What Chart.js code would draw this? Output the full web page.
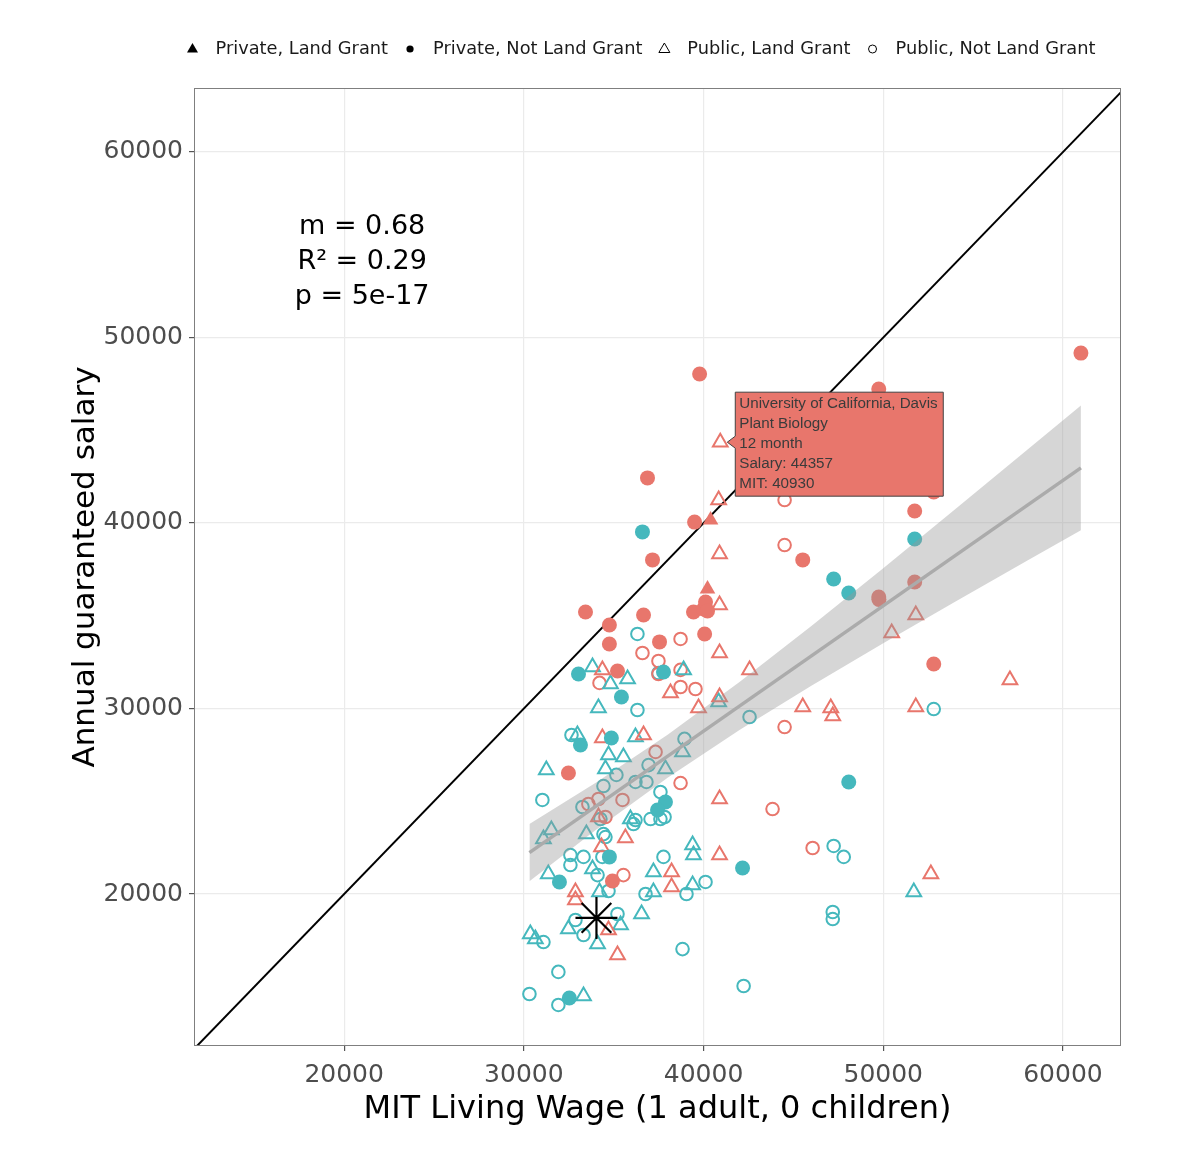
<!DOCTYPE html>
<html>
<head>
<meta charset="utf-8">
<script src="https://cdn.jsdelivr.net/npm/chart.js@4.4.0/dist/chart.umd.min.js"></script>
<style>
  html, body { margin: 0; padding: 0; background: #fff; }
</style>
</head>
<body>
<canvas id="chart" width="1200" height="1166"></canvas>
<script>
// axis ticks
const xTicks = [20000, 30000, 40000, 50000, 60000];
const yTicks = [20000, 30000, 40000, 50000, 60000];

const legendLabels = ['Private, Land Grant', 'Private, Not Land Grant', 'Public, Land Grant', 'Public, Not Land Grant'];

// [MIT living wage, salary]
const privLGRed = [[40220, 36440], [40390, 40160]];

const privNotLGRed = [
  [39780, 48030], [49750, 47220], [61000, 49160], [36880, 42430], [37160, 38010], [39500, 40050],
  [33430, 35200], [34760, 34500], [34760, 33480], [36660, 35040], [37550, 33590], [35210, 32020],
  [39440, 35200], [40000, 35360], [40110, 35740], [40220, 35260], [40060, 34020], [45520, 38010],
  [51750, 40650], [52810, 41670], [51750, 36820], [49750, 36010], [49760, 35880], [52810, 32400],
  [32480, 26520], [34930, 20700]
];

const privNotLGTeal = [
  [36600, 39520], [33040, 31860], [35430, 30620], [37770, 31970], [33150, 28030], [34870, 28410],
  [34760, 22000], [31980, 20650], [32530, 14390], [37880, 24960], [37440, 24530], [42170, 21400],
  [48080, 26040], [51750, 39140], [47240, 36980], [48080, 36230]
];

const pubLGRed = [
  [40930, 44357], [40840, 41240], [40890, 38330], [40890, 35580], [40890, 32990], [42560, 32080],
  [40890, 30620], [39720, 30030], [45520, 30080], [47080, 30030], [47190, 29600], [40890, 25120],
  [40890, 22100], [52650, 21080], [51810, 35040], [50470, 34070], [57050, 31540], [51810, 30080],
  [34370, 32080], [38160, 30840], [34370, 28410], [36660, 28570], [35650, 23020], [32870, 20110],
  [32870, 19680], [38220, 21190], [38220, 20380], [34710, 18060], [35210, 16710], [34320, 22530],
  [34150, 24150]
];

const pubLGTeal = [
  [33820, 32240], [34820, 31320], [35770, 31590], [34150, 30030], [38890, 32080], [32980, 28570],
  [36210, 28460], [34710, 27490], [35540, 27390], [31250, 26680], [34540, 26740], [38830, 27660],
  [31090, 22970], [31530, 23450], [33480, 23230], [35930, 24040], [31360, 21080], [33820, 21350],
  [34210, 20110], [37210, 21190], [37210, 20110], [39390, 22640], [39440, 22100], [39390, 20490],
  [36550, 18920], [35380, 18330], [32480, 18110], [30360, 17840], [30640, 17570], [34100, 17300],
  [33320, 14500], [40840, 30350], [51700, 20110], [37880, 26740]
];

const pubNotLGRed = [
  [44510, 41240], [44510, 38810], [38720, 33750], [36600, 32990], [37490, 32560], [37490, 31860],
  [38720, 32080], [38720, 31160], [39550, 31050], [34210, 31380], [37330, 27660], [38720, 25980],
  [44510, 29000], [43840, 24580], [46070, 22480], [33590, 24850], [34150, 25120], [35490, 25070],
  [34540, 24150], [35540, 21020]
];

const pubNotLGTeal = [
  [36320, 34020], [37490, 31910], [36320, 29920], [32650, 28570], [42560, 29540], [40110, 20650],
  [42230, 15040], [47240, 22590], [47800, 22000], [47190, 19030], [47190, 18650], [52810, 29970],
  [31030, 25070], [34540, 23070], [32590, 22100], [33320, 22000], [32590, 21560], [34100, 21020],
  [34710, 20160], [37770, 22000], [36770, 20000], [39050, 20000], [35210, 18920], [32870, 18600],
  [33320, 17790], [31090, 17410], [38830, 17030], [31920, 15800], [30310, 14610], [31920, 14020],
  [38940, 28360], [36940, 26950], [35150, 26420], [36210, 26040], [36820, 26040], [34430, 25820],
  [37600, 25500], [37600, 24040], [37050, 24040], [36210, 23990], [33260, 24690], [34430, 23230],
  [37830, 24150], [36100, 23770], [34260, 24040], [34370, 22000]
];

// highlighted program (asterisk)
const starPoint = [[34040, 18710]];

// linear fit and its confidence band
const fitX = [30310, 61000];
const fitY = [22230, 42970];
const bandX = [30310, 34000, 38000, 42000, 46000, 50000, 54000, 58000, 61000];
const bandHigh = [23770, 25995, 28590, 31425, 34445, 37565, 40735, 43930, 46340];
const bandLow = [20690, 23450, 26265, 28835, 31225, 33515, 35750, 37960, 39610];

// y = x reference
const diagX = [10000, 65000];

const statLines = ['m = 0.68', 'R\u00B2 = 0.29', 'p = 5e-17'];
const statPos = [21000, 55950];

const tipPoint = [40930, 44357];
const tipLines = ['University of California, Davis', 'Plant Biology', '12 month', 'Salary: 44357', 'MIT: 40930'];

const RED = '#E8766C';
const TEAL = '#45B8BD';
const FONT = '"DejaVu Sans", Verdana, sans-serif';

const pts = arr => arr.map(p => ({x: p[0], y: p[1]}));
const zip = (xs, ys) => xs.map((v, i) => ({x: v, y: ys[i]}));

function scatter(data, color, shape, filled, order) {
  return {
    type: 'scatter',
    data: pts(data),
    pointStyle: shape,
    pointRadius: filled ? (shape === 'triangle' ? 9 : 7.5) : (shape === 'triangle' ? 8.5 : 6.3),
    pointBackgroundColor: filled ? color : 'rgba(0,0,0,0)',
    pointBorderColor: color,
    pointBorderWidth: filled ? 0 : 2,
    order: order
  };
}

const overlay = {
  id: 'overlay',
  afterDatasetsDraw(chart) {
    const {ctx, chartArea: a, scales: {x, y}} = chart;
    ctx.save();
    ctx.strokeStyle = '#7f7f7f';
    ctx.lineWidth = 1;
    ctx.strokeRect(a.left + 0.5, a.top + 0.5, a.width - 1, a.height - 1);

    // stats text
    ctx.fillStyle = '#000';
    ctx.font = '27px ' + FONT;
    ctx.textAlign = 'center';
    ctx.textBaseline = 'middle';
    const sx = x.getPixelForValue(statPos[0]), sy = y.getPixelForValue(statPos[1]);
    statLines.forEach((t, i) => ctx.fillText(t, sx, sy + i * 35));

    // hover label
    const px = x.getPixelForValue(tipPoint[0]), py = y.getPixelForValue(tipPoint[1]);
    const bx = px + 15, by = py - 50, bw = 208, bh = 104;
    ctx.beginPath();
    ctx.moveTo(bx, by);
    ctx.lineTo(bx + bw, by);
    ctx.lineTo(bx + bw, by + bh);
    ctx.lineTo(bx, by + bh);
    ctx.lineTo(bx, py + 6);
    ctx.lineTo(px + 7, py);
    ctx.lineTo(bx, py - 6);
    ctx.closePath();
    ctx.fillStyle = RED;
    ctx.fill();
    ctx.strokeStyle = '#444';
    ctx.stroke();
    ctx.fillStyle = '#3b3b3b';
    ctx.font = '15.2px "Liberation Sans", Arial, sans-serif';
    ctx.textAlign = 'left';
    tipLines.forEach((t, i) => ctx.fillText(t, bx + 4, by + 12 + i * 20));
    ctx.restore();
  },
  afterDraw(chart) {
    const ctx = chart.ctx;
    ctx.save();
    ctx.font = '17.8px ' + FONT;
    ctx.textBaseline = 'middle';
    ctx.textAlign = 'left';
    const kinds = ['triFill', 'dotFill', 'triOpen', 'dotOpen'];
    let total = 0;
    legendLabels.forEach((t, i) => { total += 23 + ctx.measureText(t).width + (i < 3 ? 22 : 0); });
    let cx = 638 - total / 2 + 6;
    const cy = 49;
    legendLabels.forEach((t, i) => {
      const k = kinds[i];
      ctx.beginPath();
      if (k.startsWith('tri')) {
        ctx.moveTo(cx, cy - 6);
        ctx.lineTo(cx + 5.5, cy + 3.5);
        ctx.lineTo(cx - 5.5, cy + 3.5);
        ctx.closePath();
      } else {
        ctx.arc(cx, cy, k === 'dotFill' ? 3.6 : 4, 0, Math.PI * 2);
      }
      if (k.endsWith('Fill')) { ctx.fillStyle = '#000'; ctx.fill(); }
      else { ctx.strokeStyle = '#000'; ctx.lineWidth = 1; ctx.stroke(); }
      ctx.fillStyle = '#1a1a1a';
      ctx.fillText(t, cx + 23, cy);
      cx += 23 + ctx.measureText(t).width + 22;
    });
    ctx.restore();
  }
};

new Chart(document.getElementById('chart'), {
  data: {
    datasets: [
      {type: 'line', data: zip(fitX, fitY), borderColor: '#ababab', borderWidth: 3.5, pointRadius: 0, fill: false, order: 0},
      {type: 'line', data: zip(bandX, bandHigh), borderWidth: 0, borderColor: 'rgba(0,0,0,0)', pointRadius: 0,
        fill: '+1', backgroundColor: 'rgba(153,153,153,0.4)', order: 1},
      {type: 'line', data: zip(bandX, bandLow), borderWidth: 0, borderColor: 'rgba(0,0,0,0)', pointRadius: 0, fill: false, order: 2},
      {type: 'scatter', data: pts(starPoint), pointStyle: 'star', pointRadius: 21, pointBorderColor: '#000', pointBorderWidth: 2.2, order: 3},
      scatter(privLGRed, RED, 'triangle', true, 4),
      scatter(privNotLGRed, RED, 'circle', true, 5),
      scatter(privNotLGTeal, TEAL, 'circle', true, 6),
      scatter(pubLGRed, RED, 'triangle', false, 7),
      scatter(pubLGTeal, TEAL, 'triangle', false, 8),
      scatter(pubNotLGRed, RED, 'circle', false, 9),
      scatter(pubNotLGTeal, TEAL, 'circle', false, 10),
      {type: 'line', data: zip(diagX, diagX), borderColor: '#000', borderWidth: 2, pointRadius: 0, fill: false, order: 11}
    ]
  },
  options: {
    responsive: false,
    animation: false,
    events: [],
    layout: {padding: {top: 88, right: 79, bottom: 0, left: 0}},
    plugins: {legend: {display: false}, tooltip: {enabled: false}},
    scales: {
      x: {
        type: 'linear',
        min: 11643, max: 63231,
        afterBuildTicks: s => { s.ticks = xTicks.map(v => ({value: v})); },
        afterFit: s => { s.height = 120; },
        grid: {color: '#ebebeb', lineWidth: 1.2, tickColor: '#555', tickLength: 5},
        border: {display: false},
        ticks: {color: '#4d4d4d', font: {family: FONT, size: 25}, padding: 9, callback: v => String(v)},
        title: {display: true, text: 'MIT Living Wage (1 adult, 0 children)', color: '#000',
          font: {family: FONT, size: 32}, padding: {top: 37, bottom: 37}}
      },
      y: {
        type: 'linear',
        min: 11806, max: 63450,
        afterBuildTicks: s => { s.ticks = yTicks.map(v => ({value: v})); },
        afterFit: s => { s.width = 194; },
        grid: {color: '#ebebeb', lineWidth: 1.2, tickColor: '#555', tickLength: 5},
        border: {display: false},
        ticks: {color: '#4d4d4d', font: {family: FONT, size: 25}, padding: 6, callback: v => String(v)},
        title: {display: true, text: 'Annual guaranteed salary', color: '#000',
          font: {family: FONT, size: 31}, padding: {top: 67, bottom: 67}}
      }
    }
  },
  plugins: [overlay]
});
</script>
</body>
</html>
